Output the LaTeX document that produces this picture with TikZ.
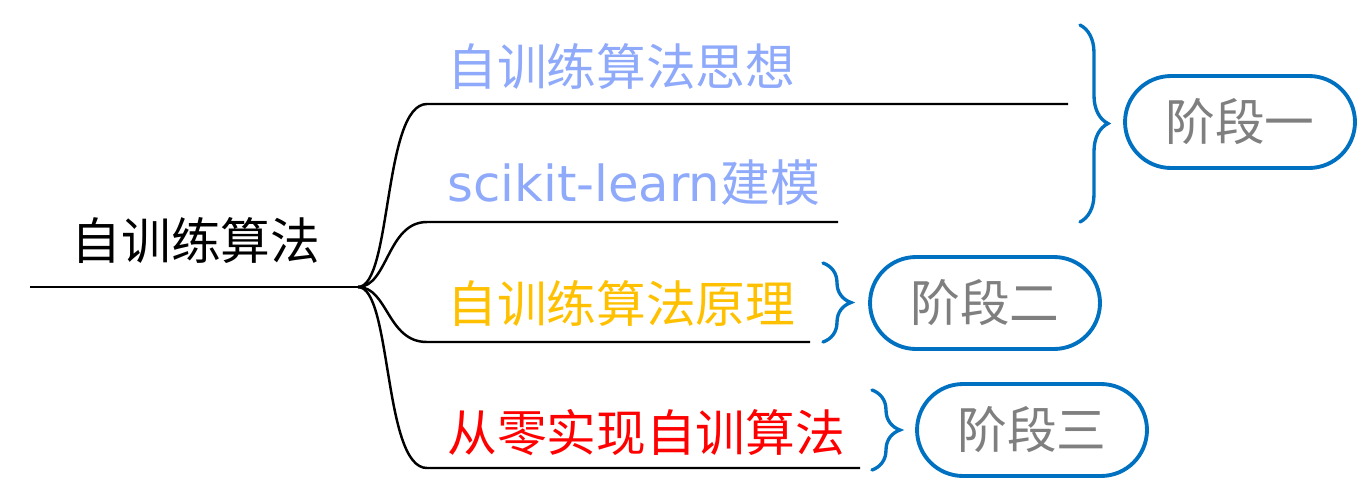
\documentclass[tikz,border=0pt]{standalone}
\usepackage{fontspec}
\setmainfont{Noto Sans CJK SC}
\newfontfamily\latinfont{DejaVu Sans}
\usetikzlibrary{shapes.misc,decorations.pathreplacing}

\definecolor{ideablue}{RGB}{143,170,250}
\definecolor{gold}{RGB}{255,192,0}
\definecolor{stageblue}{RGB}{0,112,192}
\definecolor{stagegray}{RGB}{127,127,127}

\tikzset{
  branch/.style={line width=1.4pt, black},
  label/.style={anchor=west, inner sep=0pt, font=\fontsize{28.3}{33}\selectfont},
  stagebrace/.style={decorate, line width=1.9pt, stageblue, line cap=round},
  stage/.style={draw=stageblue, line width=2.2pt, rounded rectangle, text=stagegray,
    minimum width=4.6cm, minimum height=1.84cm, inner sep=0pt, font=\fontsize{28.3}{33}\selectfont}
}

\begin{document}
\begin{tikzpicture}[x=0.02cm, y=-0.02cm]
    \useasboundingbox (0,0) rectangle (1372,498);

    % Root
    \node[inner sep=0pt, font=\fontsize{28.3}{33}\selectfont] (root) at (196,240) {自训练算法};
    \coordinate (start) at (30,287);
    \coordinate (hub) at (358,287);
    \draw[branch] (start) -- (hub);

    % Branch labels
    \node[label, text=ideablue] (idea) at (447,66) {自训练算法思想};
    \node[label, text=ideablue] (sklearn) at (447,183) {{\latinfont scikit-learn}建模};
    \node[label, text=gold] (principle) at (447,303) {自训练算法原理};
    \node[label, text=red] (scratch) at (447,433) {从零实现自训算法};

    % Branch lines
    \coordinate (b1s) at (427,104); \coordinate (b1e) at (1068,104);
    \coordinate (b2s) at (427,222); \coordinate (b2e) at (838,222);
    \coordinate (b3s) at (427,342); \coordinate (b3e) at (810,342);
    \coordinate (b4s) at (427,468); \coordinate (b4e) at (860,468);
    \draw[branch] (hub) .. controls +(34,0) and +(-44,0) .. (b1s) -- (b1e);
    \draw[branch] (hub) .. controls +(30,0) and +(-40,0) .. (b2s) -- (b2e);
    \draw[branch] (hub) .. controls +(30,0) and +(-40,0) .. (b3s) -- (b3e);
    \draw[branch] (hub) .. controls +(34,0) and +(-44,0) .. (b4s) -- (b4e);

    % Stages
    \node[stage] (stage1) at (1240,122) {阶段一};
    \node[stage] (stage2) at (985,303) {阶段二};
    \node[stage] (stage3) at (1032,430) {阶段三};

    % Braces
    \coordinate (br1t) at (1080,25);  \coordinate (br1b) at (1080,222);
    \coordinate (br2t) at (823,263);  \coordinate (br2b) at (823,342);
    \coordinate (br3t) at (872,390);  \coordinate (br3b) at (872,470);
    \draw[stagebrace, decoration={brace, amplitude=0.56cm}] (br1t) -- (br1b);
    \draw[stagebrace, decoration={brace, amplitude=0.56cm}] (br2t) -- (br2b);
    \draw[stagebrace, decoration={brace, amplitude=0.56cm}] (br3t) -- (br3b);
\end{tikzpicture}
\end{document}
